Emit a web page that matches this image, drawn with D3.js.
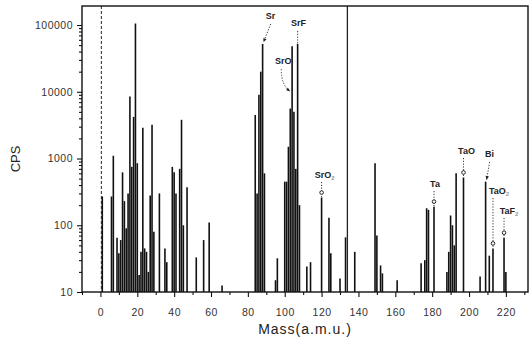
<!DOCTYPE html>
<html>
<head>
<meta charset="utf-8">
<script src="https://cdn.jsdelivr.net/npm/d3@7"></script>
<style>
  body { margin: 0; background: #fff; }
  svg { font-family: "Liberation Sans", Arial, sans-serif; }
</style>
</head>
<body>
<div id="chart"></div>
<script>
// peak masses (a.m.u.) and their counts (CPS)
const masses = [1, 6, 7, 9, 10, 11, 12, 13, 14, 15, 16, 17, 18, 19, 20, 21, 22, 23, 24, 25, 26, 27, 28, 29,
  32, 35, 36, 39, 40, 41, 43, 44, 45, 47, 52, 56, 59, 66,
  84, 85, 86, 87, 88, 89, 95, 96, 100, 101, 102, 103, 104, 105, 106, 107, 108,
  112, 114, 120, 124, 125, 130, 133, 138, 149, 150, 152, 153, 161,
  174, 176, 177, 178, 181, 188, 189, 190, 191, 192, 193, 197, 206, 209, 211, 213, 219, 220];
const cps = [270, 270, 1100, 65, 38, 60, 620, 230, 90, 300, 8500, 750, 4200, 105000, 850, 18, 40, 2900, 45, 40, 20, 280, 3200, 80,
  300, 45, 28, 750, 620, 300, 700, 3800, 100, 370, 33, 60, 110, 12.5,
  4500, 300, 9000, 20000, 52000, 600, 15, 32, 450, 450, 1500, 5600, 48000, 5000, 700, 52000, 200,
  24, 28, 260, 130, 38, 16, 66, 40, 850, 70, 25, 19, 15,
  27, 30, 180, 170, 190, 20, 40, 140, 100, 50, 600, 520, 17, 450, 35, 45, 65, 20];

// full-height vertical lines
const refMasses = [0.5, 134];

// peak labels
const annNames = ['Sr', 'SrF', 'SrO', 'SrO2', 'Ta', 'TaO', 'Bi', 'TaO2', 'TaF2'];
const annMasses = [88, 107, 103, 120, 181, 197, 209, 213, 219];
const annLevels = [123000, 96600, 26000, 510, 374, 1170, 1050, 294, 148];

const xTicks = d3.range(0, 221, 20);
const yTicks = [10, 100, 1000, 10000, 100000];

const margin = { top: 6, right: 4, bottom: 51, left: 82 };
const width = 532 - margin.left - margin.right;
const height = 343 - margin.top - margin.bottom;

const yMax = Math.pow(10, 5.285);
const x = d3.scaleLinear().domain([-10, 232]).range([0, width]);
const y = d3.scaleLog().domain([10, yMax]).range([height, 0]);

const svg = d3.select('#chart').append('svg')
  .attr('width', 532).attr('height', 343)
  .append('g')
  .attr('transform', `translate(${margin.left},${margin.top})`);

svg.append('clipPath').attr('id', 'plot')
  .append('rect').attr('width', width).attr('height', height);

// peaks
const peaks = masses.map((m, i) => ({ m, c: cps[i] }));
svg.append('g')
  .attr('clip-path', 'url(#plot)')
  .selectAll('line')
  .data(peaks)
  .join('line')
  .attr('x1', d => x(d.m)).attr('x2', d => x(d.m))
  .attr('y1', y(10)).attr('y2', d => y(d.c))
  .attr('stroke', '#111')
  .attr('stroke-width', 1.6);

// full-height lines
svg.append('g').selectAll('line')
  .data(refMasses)
  .join('line')
  .attr('x1', d => x(d)).attr('x2', d => x(d))
  .attr('y1', 0).attr('y2', height)
  .attr('stroke', '#222')
  .attr('stroke-width', (d, i) => i === 0 ? 1 : 1.3)
  .attr('stroke-dasharray', (d, i) => i === 0 ? '3,2' : null);

// axes
svg.append('g')
  .call(d3.axisLeft(y).tickValues(yTicks).tickFormat(d3.format('d')).tickSize(5).tickPadding(4));
const minors = [];
yTicks.forEach(t => d3.range(2, 10).forEach(k => { if (t * k < yMax) minors.push(t * k); }));
svg.append('g')
  .call(d3.axisLeft(y).tickValues(minors).tickFormat('').tickSize(3));

svg.append('g')
  .attr('transform', `translate(0,${height})`)
  .call(d3.axisBottom(x).tickValues(xTicks).tickSize(5).tickPadding(12));
svg.append('g')
  .attr('transform', `translate(0,${height})`)
  .call(d3.axisBottom(x).tickValues(d3.range(-10, 231, 20)).tickFormat('').tickSize(3));

svg.selectAll('.domain').remove();
svg.selectAll('.tick line').attr('stroke', '#111').attr('stroke-width', 1.1);
svg.selectAll('.tick text').attr('fill', '#333').style('font-size', '10.5px').style('letter-spacing', '0.5px');

// frame
svg.append('rect')
  .attr('width', width).attr('height', height)
  .attr('fill', 'none').attr('stroke', '#111').attr('stroke-width', 1.4);

// axis titles
svg.append('text')
  .attr('transform', `translate(${-62},${height / 2 + 10}) rotate(-90)`)
  .attr('text-anchor', 'middle')
  .attr('fill', '#222')
  .style('font-size', '13px')
  .text('CPS');

svg.append('text')
  .attr('x', 305 - margin.left).attr('y', 334 - margin.top)
  .attr('text-anchor', 'middle')
  .attr('fill', '#222')
  .style('font-size', '14px')
  .style('letter-spacing', '1px')
  .text('Mass(a.m.u.)');

// labels, leaders and markers
const labelDx = [8, 1, -7, 3, 1, 3, 4, 6, 5];
const leaderKind = ['arrow', 'line', 'curve', 'circle', 'circle', 'circle', 'arrow', 'circle', 'circle'];
const dotted = '1.2,1.6';
const ann = svg.append('g');

annNames.forEach((name, i) => {
  const m = annMasses[i];
  const px = x(m);
  const ly = y(annLevels[i]);
  const top = y(cps[masses.indexOf(m)]);
  const t = ann.append('text')
    .attr('x', px + labelDx[i]).attr('y', ly)
    .attr('text-anchor', 'middle')
    .attr('fill', '#222')
    .style('font-size', '9px')
    .style('font-weight', 'bold');
  const base = name.replace(/2$/, '');
  t.append('tspan').text(base);
  if (base !== name) {
    t.append('tspan').attr('dy', 2).style('font-size', '6px').attr('fill', '#999').text('2');
  }

  const kind = leaderKind[i];
  if (kind === 'circle') {
    const cy = top - 5;
    ann.append('line')
      .attr('x1', px).attr('x2', px).attr('y1', ly + 4).attr('y2', top)
      .attr('stroke', '#333').attr('stroke-dasharray', dotted);
    ann.append('circle')
      .attr('cx', px).attr('cy', cy).attr('r', 1.8)
      .attr('fill', '#fff').attr('stroke', '#222').attr('stroke-width', 1);
  } else if (kind === 'line') {
    ann.append('line')
      .attr('x1', px).attr('x2', px).attr('y1', ly + 5).attr('y2', top)
      .attr('stroke', '#333').attr('stroke-dasharray', dotted);
  } else if (kind === 'arrow') {
    const x0 = px + labelDx[i], y0 = ly + 5;
    const x1 = px + 1, y1 = top - 2;
    ann.append('line')
      .attr('x1', x0).attr('x2', x1).attr('y1', y0).attr('y2', y1)
      .attr('stroke', '#333').attr('stroke-dasharray', dotted);
    const a = Math.atan2(y1 - y0, x1 - x0);
    const p = d3.path();
    p.moveTo(x1, y1);
    p.lineTo(x1 - 4 * Math.cos(a - 0.45), y1 - 4 * Math.sin(a - 0.45));
    p.lineTo(x1 - 4 * Math.cos(a + 0.45), y1 - 4 * Math.sin(a + 0.45));
    p.closePath();
    ann.append('path').attr('d', p.toString()).attr('fill', '#222');
  } else if (kind === 'curve') {
    const x0 = px + labelDx[i] - 2, y0 = ly + 5;
    const x1 = px, y1 = top - 17;
    const p = d3.path();
    p.moveTo(x0, y0);
    p.quadraticCurveTo(x0, y1 - 6, x1, y1);
    ann.append('path').attr('d', p.toString())
      .attr('fill', 'none').attr('stroke', '#333').attr('stroke-dasharray', dotted);
    ann.append('path')
      .attr('d', `M${x1},${y1} l-4,-1.2 l1.6,-2.8 Z`)
      .attr('fill', '#222');
  }
});
</script>
</body>
</html>
